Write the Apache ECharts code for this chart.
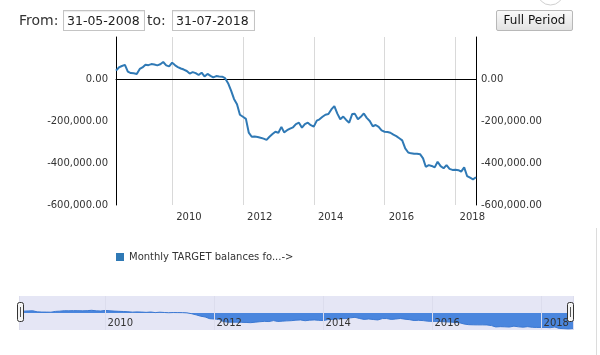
<!DOCTYPE html>
<html><head><meta charset="utf-8">
<script src="https://cdn.jsdelivr.net/npm/echarts@6/dist/echarts.min.js"></script>
<style>
html,body{margin:0;padding:0;background:#fff;overflow:hidden}
#wrap{position:relative;width:600px;height:355px;font-family:"DejaVu Sans",Verdana,sans-serif;color:#333}
#chart{position:absolute;left:0;top:0;width:600px;height:355px}
.lbl{position:absolute;font-size:14px;line-height:20px;top:10px;color:#333}
.inp{position:absolute;top:10px;height:19px;border:1px solid #c4c4c4;background:#fff;font-size:12.5px;line-height:19px;color:#222;box-sizing:content-box;padding-left:3px;box-shadow:inset 0 1px 1px rgba(0,0,0,0.08)}
.btn{position:absolute;left:496px;top:10px;width:75px;height:19px;border:1px solid #b8b8b8;border-radius:2px;background:linear-gradient(#fafafa,#e2e2e2);font-size:12px;line-height:19px;text-align:center;color:#111}
</style></head>
<body><div id="wrap">
<div id="chart"></div>
<div class="lbl" style="left:19px">From:</div>
<div class="inp" style="left:63px;width:77px">31-05-2008</div>
<div class="lbl" style="left:147px">to:</div>
<div class="inp" style="left:172px;width:78px">31-07-2018</div>
<div class="btn">Full Period</div>
</div>
<script>
// Monthly TARGET balances, month-end values (May 2008 .. Jul 2018)
var seriesName = 'Monthly TARGET balances fo...->';
var startYear = 2008, startMonth = 5; // May
var v2008 = [40000, 55000, 62000, 67000, 35000, 28000, 27000, 24000];
var v2009 = [48000, 55000, 68000, 66000, 71000, 69000, 65000, 70000, 81000, 65000, 60000, 78000];
var v2010 = [65000, 57000, 50000, 45000, 38000, 26000, 33000, 28000, 19000, 30000, 12000, 24000];
var v2011 = [15000, 8000, 14000, 12000, 11000, 4000, -20000, -55000, -95000, -120000, -170000, -180000];
var v2012 = [-190000, -255000, -275000, -274000, -276000, -280000, -284000, -290000, -275000, -262000, -251000, -256000];
var v2013 = [-228000, -254000, -244000, -236000, -230000, -215000, -208000, -232000, -215000, -208000, -220000, -227000];
var v2014 = [-198000, -192000, -180000, -170000, -167000, -145000, -129000, -165000, -192000, -179000, -195000, -208000];
var v2015 = [-167000, -166000, -192000, -180000, -164000, -185000, -200000, -225000, -219000, -228000, -245000, -251000];
var v2016 = [-252000, -256000, -265000, -272000, -282000, -292000, -330000, -350000, -354000, -356000, -356000, -358000];
var v2017 = [-378000, -418000, -410000, -414000, -421000, -394000, -415000, -425000, -410000, -428000, -433000, -432000];
var v2018 = [-434000, -441000, -421000, -462000, -470000, -478000, -468000];
var yearlyValues = [v2008, v2009, v2010, v2011, v2012, v2013, v2014, v2015, v2016, v2017, v2018];
var periodFrom = '2008-05-31', periodTo = '2018-07-31';
var yTicks = [-600000, -400000, -200000, 0, 200000];

function pad(n){return n<10?'0'+n:''+n;}
var data = [];
yearlyValues.forEach(function(arr, yi){
  var y = startYear + yi;
  arr.forEach(function(v, k){
    var m = (yi === 0 ? startMonth : 1) + k; // 1-based month
    var last = new Date(y, m, 0).getDate();
    data.push([y + '-' + pad(m) + '-' + pad(last), v]);
  });
});

var FONT = 'DejaVu Sans';
function yearLabel(val){
  var d = new Date(val);
  return (d.getMonth() === 0 && d.getDate() === 1 && d.getFullYear() % 2 === 0) ? String(d.getFullYear()) : '';
}
function yLabel(v){
  if (v > 0) return '';
  return v.toLocaleString('en-US', {minimumFractionDigits: 2, maximumFractionDigits: 2});
}
var chart = echarts.init(document.getElementById('chart'), null, {renderer: 'canvas'});
chart.setOption({
  animation: false,
  backgroundColor: '#fff',
  textStyle: {fontFamily: FONT},
  legend: {
    data: [seriesName], left: 116, top: 252, padding: 0,
    icon: 'rect', itemWidth: 8, itemHeight: 8, itemGap: 10,
    textStyle: {fontSize: 10, color: '#333', fontFamily: FONT}
  },
  grid: [
    {left: 116, right: 124, top: 37, bottom: 150, containLabel: false},
    {left: 19, right: 27, top: 296, bottom: 25, show: true, backgroundColor: '#e5e6f5', borderWidth: 0}
  ],
  xAxis: [
    {type: 'time', gridIndex: 0, min: periodFrom, max: periodTo,
     axisLine: {show: true, lineStyle: {color: '#000', width: 1}},
     axisTick: {show: false},
     splitLine: {show: true, lineStyle: {color: '#d9d9d9', width: 1}},
     axisLabel: {formatter: yearLabel, align: 'left', padding: [0,0,0,4], margin: 7, fontSize: 10, color: '#333', fontFamily: FONT, showMinLabel: true, showMaxLabel: true, hideOverlap: false}
    },
    {type: 'time', gridIndex: 1, min: periodFrom, max: periodTo, z: 10,
     axisLine: {show: false}, axisTick: {show: false},
     splitLine: {show: true, lineStyle: {color: '#dcdded', width: 1}},
     axisLabel: {inside: true, formatter: yearLabel, align: 'left', padding: [0,0,0,2], margin: 2, fontSize: 10, color: '#333', fontFamily: FONT, hideOverlap: false, showMaxLabel: true}
    }
  ],
  yAxis: [
    {type: 'value', gridIndex: 0, min: -600000, max: 200000, interval: 200000, position: 'left',
     axisLine: {show: true, lineStyle: {color: '#000', width: 1}}, axisTick: {show: false},
     splitLine: {show: false},
     axisLabel: {formatter: yLabel, margin: 8, fontSize: 10, color: '#333', fontFamily: FONT}
    },
    {type: 'value', gridIndex: 0, min: -600000, max: 200000, interval: 200000, position: 'right',
     axisLine: {show: true, lineStyle: {color: '#000', width: 1}}, axisTick: {show: false},
     splitLine: {show: false},
     axisLabel: {formatter: yLabel, margin: 5, fontSize: 10, color: '#333', fontFamily: FONT}
    },
    {type: 'value', gridIndex: 1, min: -510000, max: 510000,
     axisLine: {show: false}, axisTick: {show: false}, axisLabel: {show: false}, splitLine: {show: false}
    }
  ],
  series: [
    {name: seriesName, type: 'line', xAxisIndex: 0, yAxisIndex: 0, data: data,
     showSymbol: false, symbol: 'none', color: '#2f79b5',
     lineStyle: {color: '#2f79b5', width: 2}, z: 3,
     markLine: {silent: true, symbol: ['none','none'], label: {show: false},
       lineStyle: {color: '#000', width: 1, type: 'solid'}, data: [{yAxis: 0}], z: 2}
    },
    {name: 'navigator', type: 'line', xAxisIndex: 1, yAxisIndex: 2, data: data,
     showSymbol: false, symbol: 'none', color: '#4784dd', z: 1,
     lineStyle: {color: '#3b78d2', width: 1}, areaStyle: {color: '#4a86de', opacity: 1}
    }
  ],
  graphic: [
    {type: 'rect', shape: {x: 17.5, y: 302.5, width: 6, height: 19, r: 2}, style: {fill: '#f4f4f4', stroke: '#333', lineWidth: 1}, z: 100},
    {type: 'line', shape: {x1: 20.5, y1: 307, x2: 20.5, y2: 317}, style: {stroke: '#555', lineWidth: 1}, z: 101},
    {type: 'rect', shape: {x: 567.5, y: 302.5, width: 6, height: 19, r: 2}, style: {fill: '#f4f4f4', stroke: '#333', lineWidth: 1}, z: 100},
    {type: 'line', shape: {x1: 570.5, y1: 307, x2: 570.5, y2: 317}, style: {stroke: '#555', lineWidth: 1}, z: 101},
    {type: 'line', shape: {x1: 596.5, y1: 228, x2: 596.5, y2: 355}, style: {stroke: '#dcdcdc', lineWidth: 1}},
    {type: 'circle', shape: {cx: 550.5, cy: -8, r: 13}, style: {fill: 'none', stroke: '#d0d0d0', lineWidth: 1}}
  ]
});
</script>
</body></html>
